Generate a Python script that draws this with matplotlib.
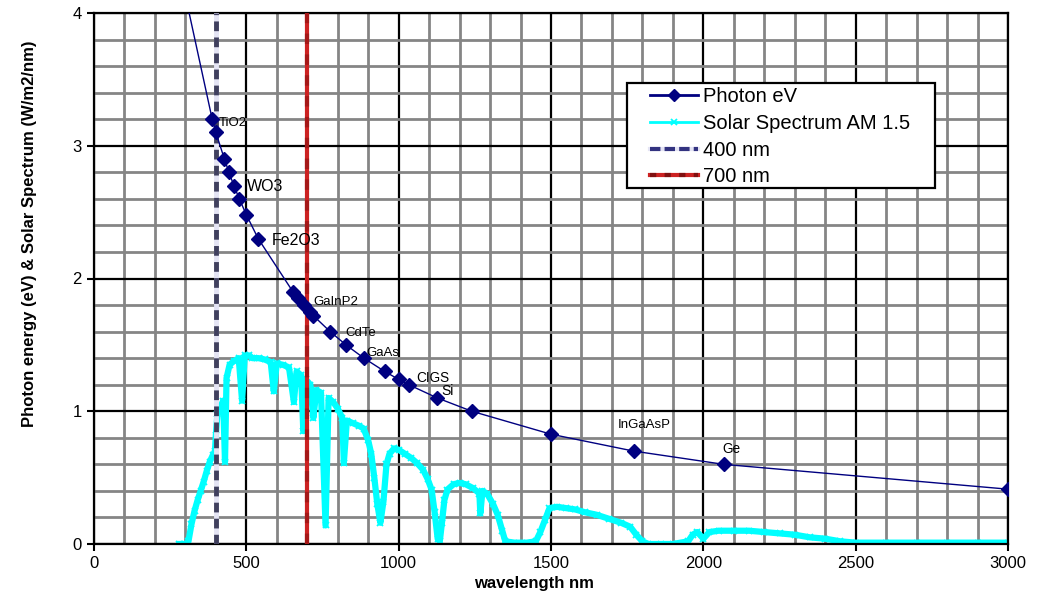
import matplotlib
matplotlib.use('Agg')
import matplotlib.pyplot as plt
from matplotlib.ticker import MultipleLocator
from matplotlib.lines import Line2D
from matplotlib.patches import Rectangle

plt.rcParams['font.family'] = ['Liberation Sans', 'DejaVu Sans']

# photon energy points (nm, eV)
photon_wl = [300, 388, 400, 428, 443, 459, 477, 500, 539, 653, 670, 689, 709, 720,
             775, 827, 886, 954, 1000, 1033, 1127, 1240, 1500, 1771, 2067, 3000]
photon_ev = [4.13, 3.2, 3.1, 2.9, 2.8, 2.7, 2.6, 2.48, 2.3, 1.9, 1.85, 1.8, 1.75, 1.72,
             1.6, 1.5, 1.4, 1.3, 1.24, 1.2, 1.1, 1.0, 0.827, 0.7, 0.6, 0.413]

# material labels (text, x, y)
mat_names = ['TiO2', 'WO3', 'Fe2O3', 'GaInP2', 'CdTe', 'GaAs', 'CIGS', 'Si', 'InGaAsP', 'Ge']
mat_x = [408, 501, 583, 720, 824, 895, 1059, 1141, 1718, 2063]
mat_y = [3.17, 2.69, 2.29, 1.82, 1.59, 1.44, 1.25, 1.155, 0.895, 0.715]
mat_size = [9.5, 11.5, 11.5, 9.5, 9.5, 9.5, 9.8, 10, 9.5, 9.8]

# AM 1.5 solar spectrum (nm, W/m2/nm)
solar_wl = [280, 300, 310, 320, 330, 340, 350, 360, 370, 380, 390, 397, 400, 405, 415,
            424, 430, 435, 445, 460, 475, 486, 495, 510, 520, 540, 560, 580, 590, 600,
            620, 640, 656, 665, 680, 687, 695, 710, 720, 730, 745, 760, 770, 785, 800,
            815, 820, 830, 850, 870, 885, 900, 910, 920, 930, 940, 950, 960, 970, 985,
            1000, 1020, 1040, 1060, 1080, 1095, 1108, 1118, 1128, 1135, 1142, 1150, 1160,
            1180, 1200, 1220, 1245, 1265, 1268, 1275, 1290, 1310, 1325, 1340, 1350, 1380,
            1420, 1450, 1465, 1480, 1495, 1520, 1550, 1580, 1610, 1650, 1690, 1730, 1760,
            1780, 1800, 1820, 1860, 1900, 1950, 1965, 1980, 2000, 2020, 2050, 2100, 2150,
            2200, 2250, 2300, 2350, 2400, 2450, 2500, 2600, 2700, 2800, 2900, 3000]
solar_val = [0.0, 0.0, 0.02, 0.15, 0.25, 0.33, 0.40, 0.47, 0.55, 0.62, 0.67, 0.70, 0.82, 0.98, 1.03,
             1.08, 0.62, 1.25, 1.35, 1.38, 1.40, 1.08, 1.42, 1.42, 1.40, 1.40, 1.39, 1.37, 1.15, 1.36,
             1.35, 1.33, 1.07, 1.30, 1.27, 0.85, 1.24, 1.20, 0.95, 1.16, 1.14, 0.14, 1.10, 1.07, 1.02,
             0.95, 0.61, 0.93, 0.91, 0.89, 0.87, 0.78, 0.68, 0.50, 0.30, 0.16, 0.32, 0.60, 0.68, 0.72,
             0.71, 0.68, 0.65, 0.61, 0.56, 0.49, 0.41, 0.24, 0.04, 0.02, 0.16, 0.33, 0.41,
             0.45, 0.46, 0.45, 0.42, 0.38, 0.23, 0.40, 0.38, 0.30, 0.22, 0.10, 0.02, 0.01,
             0.01, 0.02, 0.09, 0.18, 0.27, 0.28, 0.27, 0.26, 0.24, 0.22, 0.19, 0.16, 0.13,
             0.07, 0.02, 0.0, 0.0, 0.0, 0.02, 0.07, 0.09, 0.04, 0.09, 0.10, 0.10, 0.10,
             0.09, 0.08, 0.07, 0.05, 0.04, 0.02, 0.01, 0.01, 0.01, 0.01, 0.01, 0.01]

cut_wl = [400, 700]

fig = plt.figure(figsize=(10.38, 5.94), dpi=100)
ax = fig.add_axes([94/1038, 50/594, 914/1038, 531/594])

ax.set_xlim(0, 3000)
ax.set_ylim(0, 4)
ax.xaxis.set_major_locator(MultipleLocator(500))
ax.xaxis.set_minor_locator(MultipleLocator(100))
ax.yaxis.set_major_locator(MultipleLocator(1))
ax.yaxis.set_minor_locator(MultipleLocator(0.2))
ax.grid(which='minor', color='#858585', lw=2, zorder=0)
ax.grid(which='major', color='black', lw=1.6, zorder=0.5)
ax.set_axisbelow(True)
for s in ax.spines.values():
    s.set_linewidth(1.6)
ax.tick_params(which='major', direction='out', length=5, width=1.5, labelsize=12)
ax.tick_params(which='minor', length=0)
ax.tick_params(axis='x', pad=4)
ax.tick_params(axis='y', pad=4)

sol, = ax.plot(solar_wl, solar_val, color='#00ffff', lw=4.5, marker='x', ms=5, mew=1.3,
               zorder=2)
ph, = ax.plot(photon_wl, photon_ev, color='#000080', lw=1, marker='D', ms=7, zorder=4)

ax.axvline(cut_wl[0], color='#e4e4f4', lw=3.5, zorder=3)
ax.axvline(cut_wl[0], color='#40405e', lw=3.5, ls=(0, (2, 1.3)), zorder=3)
ax.axvline(cut_wl[1], color='#cc2222', lw=3, zorder=3)
ax.axvline(cut_wl[1], color='#a51818', lw=3, ls=(0, (2.5, 2.5)), zorder=3)

for n, x, y, fs in zip(mat_names, mat_x, mat_y, mat_size):
    ax.text(x, y, n, fontsize=fs, ha='left', va='center', zorder=5)

# legend box drawn by hand so the padding matches
box = Rectangle(((627-94)/914, (544-188)/531), 308/914, 105/531, transform=ax.transAxes,
                facecolor='white', edgecolor='black', lw=1.6, zorder=5.5)
ax.add_patch(box)
h_ph = Line2D([], [], color='#000080', lw=2, marker='D', ms=6)
h_sol = Line2D([], [], color='#00ffff', lw=2, marker='x', ms=5, mew=1.3)
h_400a = Line2D([], [], color='#e4e4f4', lw=3)
h_400b = Line2D([], [], color='#333380', lw=3, ls=(0, (2.5, 1)))
h_700a = Line2D([], [], color='#cc2222', lw=3)
h_700b = Line2D([], [], color='#801010', lw=3, ls=(0, (1.5, 2)))
leg = ax.legend([h_ph, h_sol, (h_400a, h_400b), (h_700a, h_700b)],
                ['Photon eV', 'Solar Spectrum AM 1.5', '400 nm', '700 nm'],
                loc='upper left', bbox_to_anchor=((650-94)/914, (544-87.5)/531), fontsize=14.5,
                frameon=False, handlelength=2.4, handletextpad=0.25, labelspacing=0.38,
                borderpad=0, borderaxespad=0)
leg.set_zorder(6)

ax.set_xlabel('wavelength nm', fontsize=12, fontweight='bold')
ax.xaxis.set_label_coords(0.481, -0.06)
ax.set_ylabel('Photon energy (eV) & Solar Spectrum (W/m2/nm)', fontsize=12, fontweight='bold')
ax.yaxis.set_label_coords(-0.062, 0.585)

fig.savefig('out.png', dpi=100)
